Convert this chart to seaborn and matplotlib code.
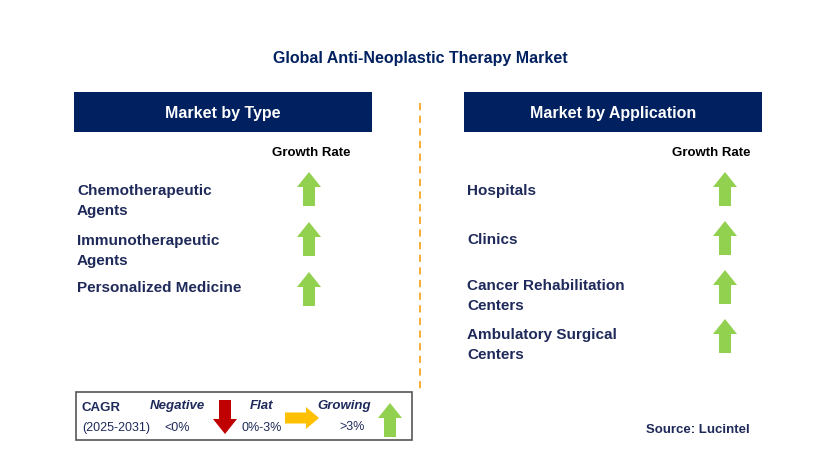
import matplotlib
matplotlib.use("Agg")
import matplotlib.pyplot as plt
import seaborn as sns
from matplotlib.patches import Rectangle, Polygon

sns.set_theme(style="white", font="Liberation Sans")
title = "Global Anti-Neoplastic Therapy Market"
type_labels = ["Chemotherapeutic\nAgents", "Immunotherapeutic\nAgents", "Personalized Medicine"]
type_growth = ["up", "up", "up"]
app_labels = ["Hospitals", "Clinics", "Cancer Rehabilitation\nCenters", "Ambulatory Surgical\nCenters"]
app_growth = ["up", "up", "up", "up"]

NAVY = "#002060"; GREEN = "#92D050"; RED = "#C00000"; YEL = "#FFC000"; TXT = "#1F2A5A"

fig = plt.figure(figsize=(8.29, 4.73), dpi=100)
ax = fig.add_axes([0, 0, 1, 1])
ax.set_xlim(0, 829); ax.set_ylim(473, 0); ax.axis("off")

def up(cx, cy, h=34, w=24, bw=12, hh=15, c=GREEN):
    t = cy - h/2; b = cy + h/2
    pts = [(cx, t), (cx + w/2, t + hh), (cx + bw/2, t + hh), (cx + bw/2, b),
           (cx - bw/2, b), (cx - bw/2, t + hh), (cx - w/2, t + hh)]
    ax.add_patch(Polygon(pts, closed=True, color=c, lw=0))

def down(cx, cy, h=34, w=24, bw=12, hh=15, c=RED):
    t = cy - h/2; b = cy + h/2
    pts = [(cx, b), (cx + w/2, b - hh), (cx + bw/2, b - hh), (cx + bw/2, t),
           (cx - bw/2, t), (cx - bw/2, b - hh), (cx - w/2, b - hh)]
    ax.add_patch(Polygon(pts, closed=True, color=c, lw=0))

def right(cx, cy, w=34, h=22, bh=11, hw=13, c=YEL):
    l = cx - w/2; r = cx + w/2
    pts = [(r, cy), (r - hw, cy - h/2), (r - hw, cy - bh/2), (l, cy - bh/2),
           (l, cy + bh/2), (r - hw, cy + bh/2), (r - hw, cy + h/2)]
    ax.add_patch(Polygon(pts, closed=True, color=c, lw=0))

ax.text(420, 59, title, ha="center", va="center", fontsize=11.5, fontweight="bold", color=NAVY)
for x0, lab in [(74, "Market by Type"), (464, "Market by Application")]:
    ax.add_patch(Rectangle((x0, 92), 298, 40, color=NAVY, lw=0))
    ax.text(x0 + 149, 113, lab, ha="center", va="center", fontsize=11.5, fontweight="bold", color="white")
ax.plot([420, 420], [103, 392], ls=(0, (4, 3)), color="#F5A623", lw=1.3)

ax.text(311, 153, "Growth Rate", ha="center", va="center", fontsize=9.5, fontweight="bold", color="black")
ax.text(711, 153, "Growth Rate", ha="center", va="center", fontsize=9.5, fontweight="bold", color="black")

for i, (lab, g) in enumerate(zip(type_labels, type_growth)):
    cy = 189 + i * 50
    ax.text(77, cy + (12 if "\n" in lab else -1), lab, ha="left", va="center", fontsize=11,
            fontweight="bold", color=TXT, linespacing=1.6)
    up(309, cy)
for i, (lab, g) in enumerate(zip(app_labels, app_growth)):
    cy = 189 + i * 49
    ax.text(467, cy + (9 if "\n" in lab else 2), lab, ha="left", va="center", fontsize=11,
            fontweight="bold", color=TXT, linespacing=1.6)
    up(725, cy)

ax.add_patch(Rectangle((76, 392), 336, 48, fill=False, ec="#555555", lw=1.2))
ax.text(82, 408, "CAGR", fontsize=9.5, fontweight="bold", color=TXT, va="center")
ax.text(82, 428, "(2025-2031)", fontsize=9, color=TXT, va="center")
ax.text(177, 406, "Negative", fontsize=9.5, fontweight="bold", style="italic", color=TXT, ha="center", va="center")
ax.text(177, 428, "<0%", fontsize=9, color=TXT, ha="center", va="center")
down(225, 417, h=34)
ax.text(262, 406, "Flat", fontsize=9.5, fontweight="bold", style="italic", color=TXT, ha="center", va="center")
ax.text(262, 428, "0%-3%", fontsize=9, color=TXT, ha="center", va="center")
right(302, 418, w=34)
ax.text(344, 406, "Growing", fontsize=9.5, fontweight="bold", style="italic", color=TXT, ha="center", va="center")
ax.text(352, 427, ">3%", fontsize=9, color=TXT, ha="center", va="center")
up(390, 420, h=34)

ax.text(750, 430, "Source: Lucintel", ha="right", va="center", fontsize=9.5, fontweight="bold", color=TXT)
fig.savefig("out.png", dpi=100)
